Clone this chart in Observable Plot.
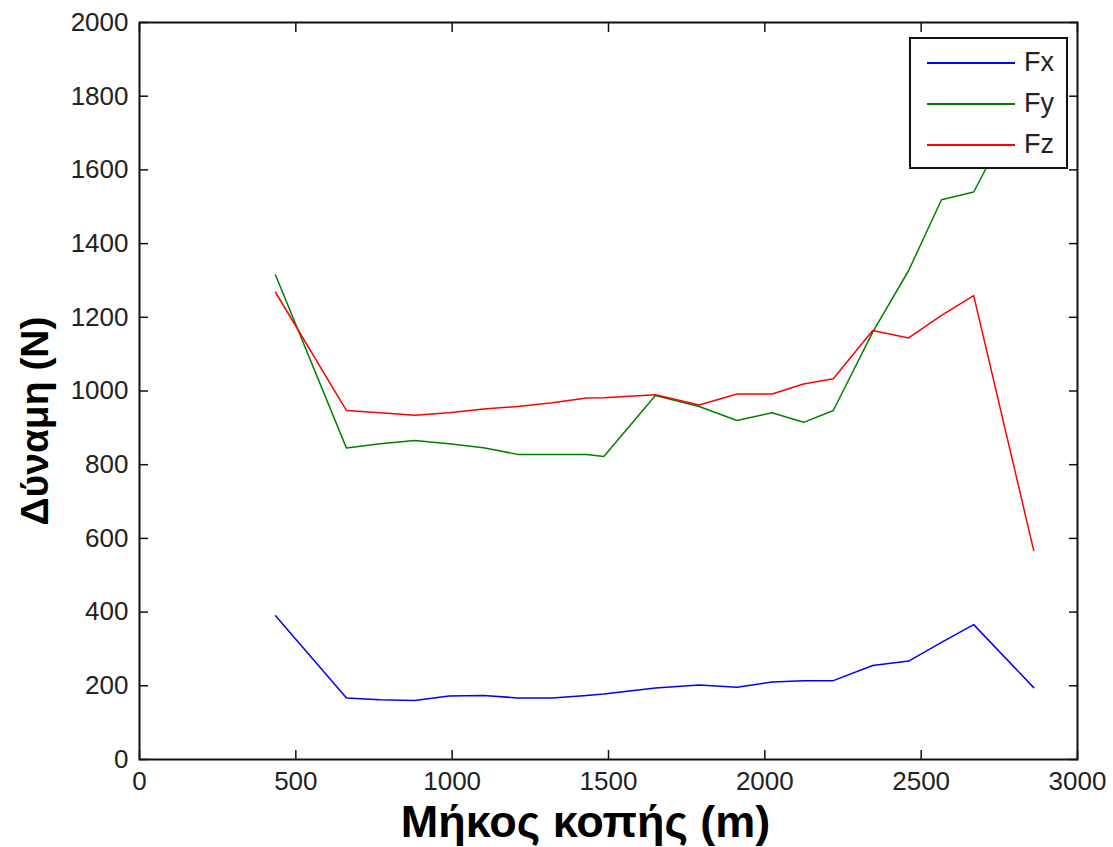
<!DOCTYPE html>
<html>
<head>
<meta charset="utf-8">
<script src="https://cdn.jsdelivr.net/npm/d3@7"></script>
<script src="https://cdn.jsdelivr.net/npm/@observablehq/plot@0.6"></script>
<style>
  html, body { margin: 0; padding: 0; background: #fff; }
  #wrap { position: relative; width: 1113px; height: 847px; font-family: "Liberation Sans", Arial, sans-serif; }
  #legend { position: absolute; left: 909px; top: 37px; width: 159px; height: 132px; box-sizing: border-box;
            border: 2px solid #111; background: #fff; }
  .lg-line { position: absolute; left: 16px; width: 88px; height: 0; border-top: 2px solid; }
  .lg-text { position: absolute; left: 113px; font-size: 27px; line-height: 27px; color: #222; }
</style>
</head>
<body>
<div id="wrap"></div>
<script>
// Data
const cutLength = [435, 662, 770, 880, 990, 1100, 1210, 1320, 1430, 1485, 1650, 1790, 1911, 2023, 2124, 2219, 2345, 2460, 2565, 2668, 2860];
const fx = [390, 167, 162, 160, 172, 174, 167, 167, 174, 178, 194, 202, 196, 210, 214, 214, 255, 267, 318, 366, 195];
const fy = [1315, 845, 857, 866, 857, 846, 828, 828, 828, 822, 988, 958, 920, 941, 915, 947, 1160, 1327, 1519, 1540, 1850];
const fz = [1268, 947, 941, 934, 941, 951, 958, 968, 981, 982, 990, 962, 992, 992, 1019, 1033, 1164, 1144, 1205, 1259, 567];

const seriesNames = ["Fx", "Fy", "Fz"];
const seriesColors = ["#0000ff", "#008000", "#ff0000"];
const xTicks = [0, 500, 1000, 1500, 2000, 2500, 3000];
const yTicks = [0, 200, 400, 600, 800, 1000, 1200, 1400, 1600, 1800, 2000];
const xTitle = "Μήκος κοπής (m)";
const yTitle = "Δύναμη (N)";

const seriesValues = [fx, fy, fz];
const rows = [];
seriesNames.forEach((name, s) => {
  cutLength.forEach((x, i) => rows.push({series: name, x, value: seriesValues[s][i]}));
});

const tickFont = {fontSize: 26, fill: "#222", fontFamily: "Liberation Sans, Arial, sans-serif"};

const chart = Plot.plot({
  width: 1113,
  height: 847,
  marginLeft: 139,
  marginRight: 36,
  marginTop: 22,
  marginBottom: 88,
  style: {background: "#fff", fontFamily: "Liberation Sans, Arial, sans-serif"},
  x: {domain: [0, 3000], label: null},
  y: {domain: [0, 2000], label: null},
  color: {domain: seriesNames, range: seriesColors},
  marks: [
    Plot.line(rows, {x: "x", y: "value", z: "series", stroke: "series", strokeWidth: 1.5}),
    Plot.frame({stroke: "#111", strokeWidth: 2}),
    // inward ticks on all four sides
    Plot.axisY(yTicks, {anchor: "left", tickSize: 9, dx: 9, fill: "none", label: null, stroke: "#111", strokeWidth: 1.5}),
    Plot.axisY(yTicks, {anchor: "right", tickSize: 9, dx: -9, fill: "none", label: null, stroke: "#111", strokeWidth: 1.5}),
    Plot.axisX(xTicks, {anchor: "bottom", tickSize: 9, dy: -9, fill: "none", label: null, stroke: "#111", strokeWidth: 1.5}),
    Plot.axisX(xTicks, {anchor: "top", tickSize: 9, dy: 9, fill: "none", label: null, stroke: "#111", strokeWidth: 1.5}),
    // tick labels
    Plot.axisY(yTicks, {anchor: "left", tickSize: 0, tickPadding: 11, label: null, tickFormat: d => String(d), ...tickFont}),
    Plot.axisX(xTicks, {anchor: "bottom", tickSize: 0, tickPadding: 12, label: null, tickFormat: d => String(d), ...tickFont}),
    // axis titles
    Plot.text([xTitle], {text: d => d, frameAnchor: "bottom", textAnchor: "middle", lineAnchor: "middle", dx: -23, dy: 63, fontSize: 45, fontWeight: "bold", fill: "#000"}),
    Plot.text([yTitle], {text: d => d, frameAnchor: "left", textAnchor: "middle", lineAnchor: "middle", rotate: -90, dx: -104, dy: 30, fontSize: 39, fontWeight: "bold", fill: "#000"})
  ]
});

const wrap = document.getElementById("wrap");
wrap.appendChild(chart);

// legend overlay (inside the axes, top-right, as in the reference)
const legend = document.createElement("div");
legend.id = "legend";
seriesNames.forEach((name, i) => {
  const ln = document.createElement("div");
  ln.className = "lg-line";
  ln.style.top = (23 + i * 41) + "px";
  ln.style.borderTopColor = seriesColors[i];
  legend.appendChild(ln);
  const tx = document.createElement("div");
  tx.className = "lg-text";
  tx.style.top = (10 + i * 41) + "px";
  tx.textContent = name;
  legend.appendChild(tx);
});
wrap.appendChild(legend);
</script>
</body>
</html>
